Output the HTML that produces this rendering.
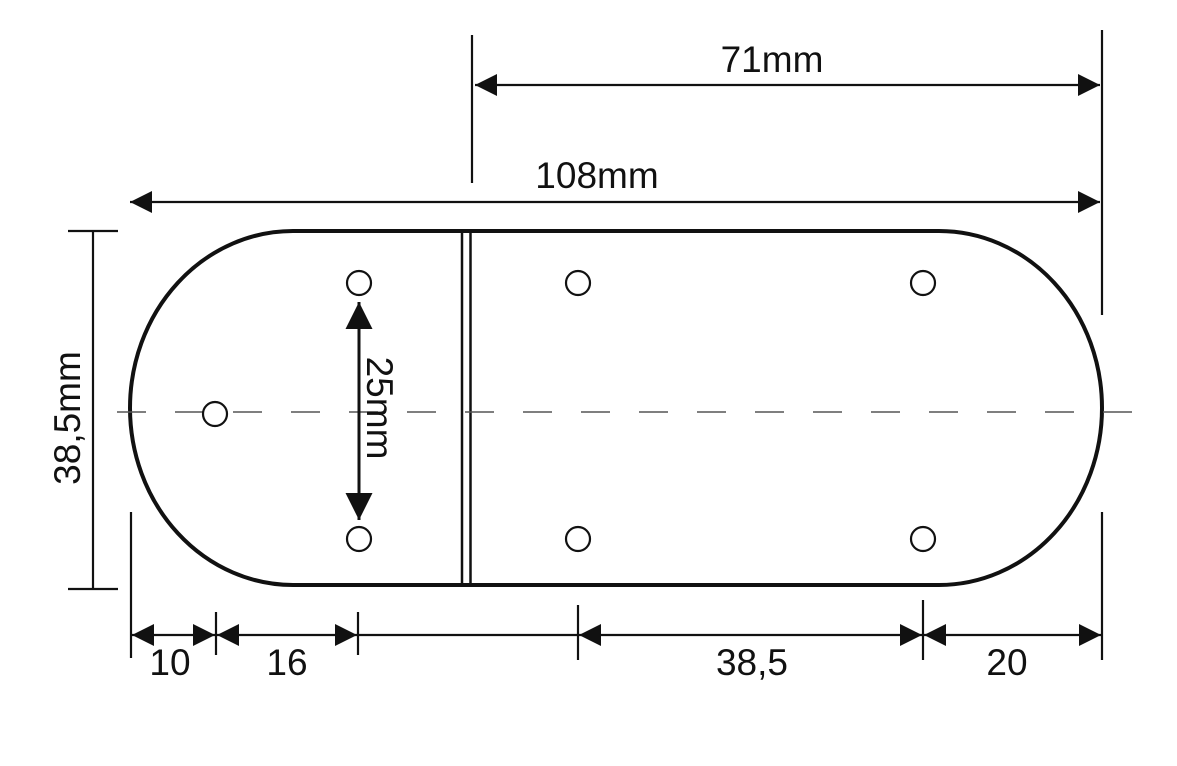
<!DOCTYPE html>
<html><head><style>html,body{margin:0;padding:0;background:#fff}</style></head><body>
<svg width="1177" height="761" viewBox="0 0 1177 761" xmlns="http://www.w3.org/2000/svg" font-family="Liberation Sans, sans-serif">
<defs>
<marker id="a" viewBox="0 0 10 10" refX="10" refY="5" markerWidth="22" markerHeight="22" markerUnits="userSpaceOnUse" orient="auto-start-reverse"><path d="M0,0 L10,5 L0,10 z" fill="#111"/></marker>
<marker id="b" viewBox="0 0 10 10" refX="10" refY="5" markerWidth="27" markerHeight="27" markerUnits="userSpaceOnUse" orient="auto-start-reverse"><path d="M0,0 L10,5 L0,10 z" fill="#111"/></marker>
</defs>
<g stroke="#111" fill="none">
<path d="M293,231 L939,231 A163,177 0 0 1 939,585 L293,585 A163,177 0 0 1 293,231 Z" stroke-width="4"/>
<line x1="462" y1="233" x2="462" y2="583" stroke-width="2.5"/>
<line x1="470.5" y1="233" x2="470.5" y2="583" stroke-width="2.5"/>
<line x1="117" y1="412" x2="1133" y2="412" stroke="#555" stroke-width="1.5" stroke-dasharray="29,29"/>
<g stroke-width="2.2" fill="#fff">
<circle cx="359" cy="283" r="12"/><circle cx="359" cy="539" r="12"/><circle cx="215" cy="414" r="12"/>
<circle cx="578" cy="283" r="12"/><circle cx="578" cy="539" r="12"/>
<circle cx="923" cy="283" r="12"/><circle cx="923" cy="539" r="12"/>
</g>
<line x1="359" y1="302" x2="359" y2="520" stroke-width="3" marker-start="url(#b)" marker-end="url(#b)"/>
<g stroke-width="2.2">
<line x1="93" y1="231" x2="93" y2="589"/>
<line x1="68" y1="231" x2="118" y2="231"/>
<line x1="68" y1="589" x2="118" y2="589"/>
<line x1="472" y1="35" x2="472" y2="183"/>
<line x1="1102" y1="30" x2="1102" y2="315"/>
<line x1="1102" y1="512" x2="1102" y2="660"/>
<line x1="475" y1="85" x2="1100" y2="85" marker-start="url(#a)" marker-end="url(#a)"/>
<line x1="130" y1="202" x2="1100" y2="202" marker-start="url(#a)" marker-end="url(#a)"/>
<line x1="131" y1="512" x2="131" y2="658"/>
<line x1="216" y1="612" x2="216" y2="655"/>
<line x1="358" y1="612" x2="358" y2="655"/>
<line x1="578" y1="605" x2="578" y2="660"/>
<line x1="923" y1="600" x2="923" y2="660"/>
<line x1="358" y1="635" x2="578" y2="635"/>
<line x1="132" y1="635" x2="215" y2="635" marker-start="url(#a)" marker-end="url(#a)"/>
<line x1="217" y1="635" x2="357" y2="635" marker-start="url(#a)" marker-end="url(#a)"/>
<line x1="579" y1="635" x2="922" y2="635" marker-start="url(#a)" marker-end="url(#a)"/>
<line x1="924" y1="635" x2="1101" y2="635" marker-start="url(#a)" marker-end="url(#a)"/>
</g>
</g>
<g fill="#111" font-size="37" text-anchor="middle">
<text x="772" y="72">71mm</text>
<text x="597" y="188">108mm</text>
<text x="170" y="675">10</text>
<text x="287" y="675">16</text>
<text x="752" y="675">38,5</text>
<text x="1007" y="675">20</text>
<text transform="translate(80,418) rotate(-90)">38,5mm</text>
<text transform="translate(367,408) rotate(90)">25mm</text>
</g>
</svg>
</body></html>
